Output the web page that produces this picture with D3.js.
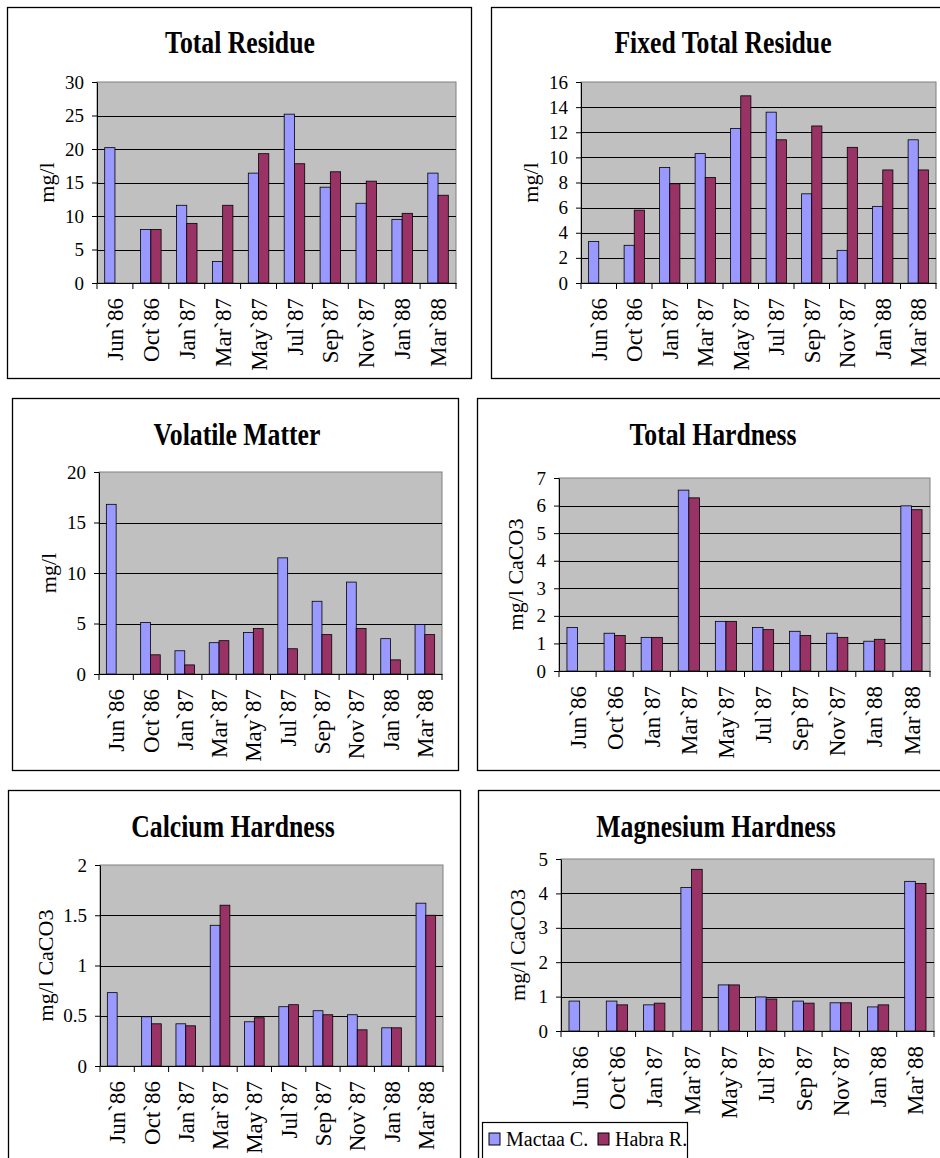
<!DOCTYPE html>
<html>
<head>
<meta charset="utf-8">
<script src="https://cdn.jsdelivr.net/npm/d3@7"></script>
<style>
  html, body { margin: 0; padding: 0; background: #fff; }
  svg { display: block; }
  text { font-family: "Liberation Serif", "Times New Roman", serif; fill: #000; }
</style>
</head>
<body>
<svg id="chart" width="940" height="1158" font-family="Liberation Serif, Times New Roman, serif"></svg>
<script>
// ---------------- DATA ----------------
const categories = ["Jun`86", "Oct`86", "Jan`87", "Mar`87", "May`87", "Jul`87", "Sep`87", "Nov`87", "Jan`88", "Mar`88"];
const seriesNames = ["Mactaa C.", "Habra R."];

const totalResidueMactaa = [20.2, 8.0, 11.6, 3.2, 16.4, 25.2, 14.3, 11.9, 9.5, 16.4];
const totalResidueHabra  = [null, 8.0, 8.9, 11.6, 19.3, 17.8, 16.6, 15.2, 10.4, 13.1];

const fixedResidueMactaa = [3.3, 3.0, 9.2, 10.3, 12.3, 13.6, 7.1, 2.6, 6.1, 11.4];
const fixedResidueHabra  = [null, 5.8, 7.9, 8.4, 14.9, 11.4, 12.5, 10.8, 9.0, 9.0];

const volatileMactaa = [16.8, 5.1, 2.3, 3.1, 4.1, 11.5, 7.2, 9.1, 3.5, 4.9];
const volatileHabra  = [null, 1.9, 0.9, 3.3, 4.5, 2.5, 3.9, 4.5, 1.4, 3.9];

const totalHardnessMactaa = [1.58, 1.37, 1.22, 6.56, 1.80, 1.58, 1.44, 1.37, 1.08, 5.99];
const totalHardnessHabra  = [null, 1.29, 1.22, 6.28, 1.80, 1.50, 1.29, 1.22, 1.15, 5.85];

const calciumMactaa = [0.73, 0.49, 0.42, 1.40, 0.44, 0.59, 0.55, 0.51, 0.38, 1.62];
const calciumHabra  = [null, 0.42, 0.40, 1.60, 0.48, 0.61, 0.51, 0.36, 0.38, 1.50];

const magnesiumMactaa = [0.87, 0.87, 0.76, 4.17, 1.34, 0.99, 0.87, 0.82, 0.70, 4.35];
const magnesiumHabra  = [null, 0.76, 0.81, 4.70, 1.34, 0.93, 0.81, 0.82, 0.76, 4.29];

const ticksTotalResidue  = [0, 5, 10, 15, 20, 25, 30];
const ticksFixedResidue  = [0, 2, 4, 6, 8, 10, 12, 14, 16];
const ticksVolatile      = [0, 5, 10, 15, 20];
const ticksTotalHardness = [0, 1, 2, 3, 4, 5, 6, 7];
const ticksCalcium       = [0, 0.5, 1, 1.5, 2];
const ticksMagnesium     = [0, 1, 2, 3, 4, 5];

// ---------------- LAYOUT ----------------
const FONT = "Liberation Serif, Times New Roman, serif";
const colors = ["#9999FF", "#993366"];
const panels = [
  { title: "Total Residue", yLabel: "mg/l", a: totalResidueMactaa, b: totalResidueHabra, ticks: ticksTotalResidue,
    frame: [7, 7, 464, 371], plot: [97, 82, 456, 283], titleX: 240, titleY: 53, yLabelX: 46 },
  { title: "Fixed Total Residue", yLabel: "mg/l", a: fixedResidueMactaa, b: fixedResidueHabra, ticks: ticksFixedResidue,
    frame: [491, 7, 460, 371], plot: [581, 82, 936, 283], titleX: 723, titleY: 53, yLabelX: 530 },
  { title: "Volatile Matter", yLabel: "mg/l", a: volatileMactaa, b: volatileHabra, ticks: ticksVolatile,
    frame: [12, 398, 446, 372], plot: [99, 472, 442, 674], titleX: 237, titleY: 445, yLabelX: 48 },
  { title: "Total Hardness", yLabel: "mg/l CaCO3", a: totalHardnessMactaa, b: totalHardnessHabra, ticks: ticksTotalHardness,
    frame: [477, 398, 470, 372], plot: [559, 478, 930, 671], titleX: 713, titleY: 445, yLabelX: 515 },
  { title: "Calcium Hardness", yLabel: "mg/l CaCO3", a: calciumMactaa, b: calciumHabra, ticks: ticksCalcium,
    frame: [8, 790, 452, 400], plot: [100, 865, 443, 1066], titleX: 233, titleY: 837, yLabelX: 45 },
  { title: "Magnesium Hardness", yLabel: "mg/l CaCO3", a: magnesiumMactaa, b: magnesiumHabra, ticks: ticksMagnesium,
    frame: [478, 790, 470, 400], plot: [561, 859, 934, 1031], titleX: 716, titleY: 837, yLabelX: 517 }
];

const svg = d3.select("#chart");

panels.forEach(p => {
  const g = svg.append("g");
  const [fx, fy, fw, fh] = p.frame;
  const [l, t, r, b] = p.plot;

  // frame
  g.append("rect").attr("x", fx + 0.5).attr("y", fy + 0.5).attr("width", fw).attr("height", fh)
    .attr("fill", "#fff").attr("stroke", "#000").attr("stroke-width", 1.3);

  // title
  g.append("text")
    .attr("transform", `translate(${p.titleX},${p.titleY}) scale(0.83,1)`)
    .attr("text-anchor", "middle")
    .attr("font-family", FONT)
    .style("font-size", "31px").style("font-weight", "bold")
    .text(p.title);

  const x = d3.scaleBand().domain(categories).range([l, r]).paddingInner(0).paddingOuter(0);
  const y = d3.scaleLinear().domain([0, d3.max(p.ticks)]).range([b, t]);

  // plot background
  g.append("rect").attr("x", l).attr("y", t).attr("width", r - l).attr("height", b - t)
    .attr("fill", "#C0C0C0").attr("stroke", "#808080").attr("stroke-width", 1);

  // gridlines
  g.append("g").selectAll("line")
    .data(p.ticks.filter(v => v > 0 && v < d3.max(p.ticks)))
    .join("line")
    .attr("x1", l).attr("x2", r)
    .attr("y1", d => Math.round(y(d)) + 0.5).attr("y2", d => Math.round(y(d)) + 0.5)
    .attr("stroke", "#000").attr("stroke-width", 1);

  // bars
  const bw = x.bandwidth() / 3.5;
  const off = (x.bandwidth() - 2 * bw) / 2;
  [p.a, p.b].forEach((series, si) => {
    g.append("g").selectAll("rect")
      .data(categories.map((c, i) => ({ c, v: series[i] })).filter(d => d.v != null))
      .join("rect")
      .attr("x", d => x(d.c) + off + si * bw)
      .attr("y", d => y(d.v))
      .attr("width", bw)
      .attr("height", d => y(0) - y(d.v))
      .attr("fill", colors[si])
      .attr("stroke", "#000").attr("stroke-width", 0.8);
  });

  // y axis
  const yAxis = g.append("g").attr("transform", `translate(${l},0)`)
    .call(d3.axisLeft(y).tickValues(p.ticks).tickSize(5).tickSizeOuter(0).tickPadding(8).tickFormat(d => String(d)))
    .attr("font-family", FONT).attr("font-size", 19);
  yAxis.select(".domain").attr("stroke", "#000");
  yAxis.selectAll(".tick line").attr("stroke", "#000");
  yAxis.selectAll("text").attr("fill", "#000");

  // x axis
  const xAxis = g.append("g").attr("transform", `translate(0,${b})`)
    .call(d3.axisBottom(x).tickSize(0).tickSizeOuter(0).tickPadding(0))
    .attr("font-family", FONT).attr("font-size", 23);
  xAxis.select(".domain").attr("stroke", "#000");
  xAxis.selectAll("text")
    .attr("transform", "rotate(-90)")
    .attr("x", -15).attr("y", 0).attr("dy", "0.35em")
    .attr("fill", "#000")
    .style("text-anchor", "end");
  // category boundary ticks
  const bounds = categories.map(c => x(c)).concat([x.range()[1]]);
  xAxis.append("g").selectAll("line").data(bounds).join("line")
    .attr("x1", d => d).attr("x2", d => d).attr("y1", 0).attr("y2", 6)
    .attr("stroke", "#000");

  // y label
  g.append("text")
    .attr("transform", `translate(${p.yLabelX},${(t + b) / 2}) rotate(-90)`)
    .attr("text-anchor", "middle").attr("dy", "0.35em")
    .attr("font-family", FONT)
    .style("font-size", "22px")
    .text(p.yLabel);
});

// legend
const lg = svg.append("g");
lg.append("rect").attr("x", 482.5).attr("y", 1122.5).attr("width", 205).attr("height", 60)
  .attr("fill", "#fff").attr("stroke", "#000").attr("stroke-width", 1.2);
const legendX = [489, 598];
seriesNames.forEach((name, i) => {
  lg.append("rect").attr("x", legendX[i]).attr("y", 1133).attr("width", 11).attr("height", 12)
    .attr("fill", colors[i]).attr("stroke", "#000").attr("stroke-width", 1);
  lg.append("text").attr("x", legendX[i] + 17).attr("y", 1146)
    .attr("font-family", FONT)
    .style("font-size", "20px").text(name);
});
</script>
</body>
</html>
